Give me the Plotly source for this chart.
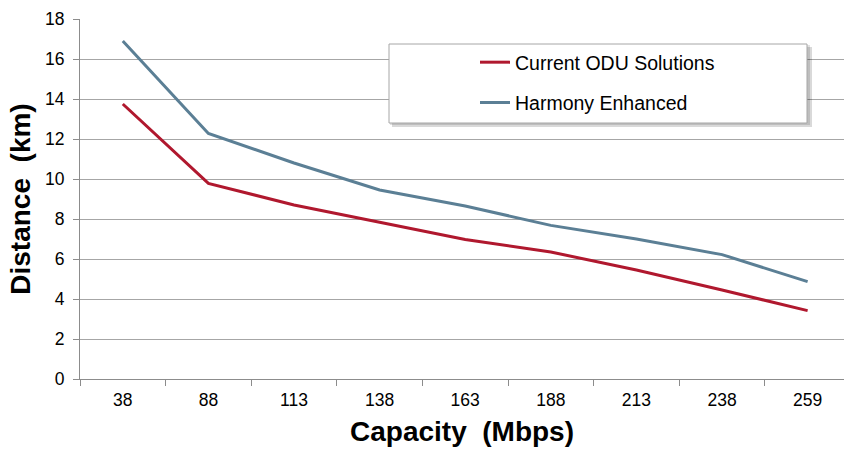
import plotly.graph_objects as go

capacity = ["38", "88", "113", "138", "163", "188", "213", "238", "259"]
current_odu = [13.75, 9.78, 8.7, 7.85, 6.98, 6.35, 5.45, 4.45, 3.42]
harmony = [16.9, 12.28, 10.8, 9.45, 8.65, 7.68, 7.0, 6.22, 4.87]

series_names = ["Current ODU Solutions", "Harmony Enhanced"]
series_colors = ["#B0182E", "#5B7F95"]

fig = go.Figure()
for name, vals, col in zip(series_names, [current_odu, harmony], series_colors):
    fig.add_trace(go.Scatter(
        x=capacity, y=vals, mode="lines", name=name, legendgroup=name,
        line=dict(color=col, width=3), hoverinfo="x+y",
    ))

W, H = 844, 449
L, R, T, B = 80, 0, 19, 70
pw, ph = W - L - R, H - T - B

def px_x(px):
    return (px - L) / pw

def px_y(py):
    return (H - B - py) / ph

shapes = [
    # legend shadow
    dict(type="rect", xref="paper", yref="paper",
         x0=px_x(392), x1=px_x(812), y0=px_y(127), y1=px_y(47),
         fillcolor="rgba(0,0,0,0.15)", line=dict(width=0), layer="above"),
    dict(type="rect", xref="paper", yref="paper",
         x0=px_x(390), x1=px_x(810), y0=px_y(125), y1=px_y(45),
         fillcolor="rgba(0,0,0,0.12)", line=dict(width=0), layer="above"),
    dict(type="rect", xref="paper", yref="paper",
         x0=px_x(389), x1=px_x(807), y0=px_y(123), y1=px_y(44),
         fillcolor="white", line=dict(color="#A6A6A6", width=1), layer="above"),
]

fig.update_layout(
    width=W, height=H,
    margin=dict(l=L, r=R, t=T, b=B, pad=0),
    paper_bgcolor="white", plot_bgcolor="white",
    font=dict(family="Liberation Sans, Arial, sans-serif", color="#000000", size=17.5),
    showlegend=True,
    legend=dict(
        x=px_x(475), y=px_y(43), xanchor="left", yanchor="top",
        bgcolor="rgba(0,0,0,0)", borderwidth=0,
        font=dict(size=19.5, color="#000000"),
        tracegroupgap=12,
    ),
    shapes=shapes,
    xaxis=dict(
        type="category", range=[-0.5, 8.425], automargin=False,
        showgrid=False, showline=True, linecolor="#8C8C8C", linewidth=1,
        ticks="outside", ticklen=6, tickcolor="#8C8C8C", tickson="boundaries",
        tickfont=dict(size=17.5), ticklabelstandoff=5,
        title=dict(text="<b>Capacity  (Mbps)</b>", font=dict(size=28), standoff=12),
        zeroline=False,
    ),
    yaxis=dict(
        range=[0, 18], dtick=2, showgrid=True, gridcolor="#A6A6A6", gridwidth=1,
        automargin=False,
        showline=True, linecolor="#8C8C8C", linewidth=1,
        ticks="outside", ticklen=6, tickcolor="#8C8C8C",
        tickfont=dict(size=17.5), ticklabelstandoff=5,
        title=dict(text="<b>Distance  (km)</b>", font=dict(size=28), standoff=6),
        zeroline=False,
    ),
)

fig.write_html(
    "out.html",
    config={"displayModeBar": False},
    post_script="document.body.style.margin='0';document.body.style.overflow='hidden';",
)
